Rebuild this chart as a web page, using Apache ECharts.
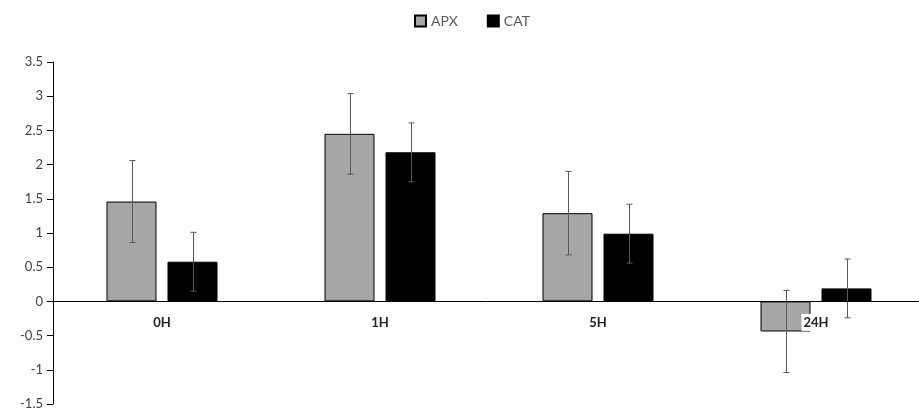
<!DOCTYPE html>
<html><head><meta charset="utf-8">
<script src="https://cdn.jsdelivr.net/npm/echarts@6/dist/echarts.min.js"></script>
<style>html,body{margin:0;padding:0;background:#fff}#c{width:919px;height:412px}</style>
</head><body><div id="c"></div>
<script>
const categories = ['0H', '1H', '5H', '24H'];
const apx = [1.46, 2.45, 1.29, -0.44];
const apxErr = [0.60, 0.59, 0.61, 0.60];
const cat = [0.58, 2.18, 0.99, 0.19];
const catErr = [0.43, 0.43, 0.43, 0.43];

const BAR_W = 50, GAP_PX = 11;
const font = 'Lato, "Open Sans", sans-serif';

function errData(vals, errs) {
  return vals.map((v, i) => [i, v - errs[i], v + errs[i]]);
}
function errSeries(name, vals, errs, sign) {
  return {
    type: 'custom', name: name + 'err', silent: true, z: 5,
    data: errData(vals, errs),
    encode: { x: 0, y: [1, 2] },
    renderItem: function (params, api) {
      const c = api.coord([api.value(0), api.value(1)]);
      const hi = api.coord([api.value(0), api.value(2)]);
      const x = Math.round(c[0] + sign * (BAR_W + GAP_PX) / 2) + 0.5;
      const cap = 3;
      const st = { stroke: '#5a5a5a', lineWidth: 1 };
      return { type: 'group', children: [
        { type: 'line', shape: { x1: x, y1: hi[1], x2: x, y2: c[1] }, style: st },
        { type: 'line', shape: { x1: x - cap, y1: hi[1], x2: x + cap, y2: hi[1] }, style: st },
        { type: 'line', shape: { x1: x - cap, y1: c[1], x2: x + cap, y2: c[1] }, style: st }
      ]};
    }
  };
}

const chart = echarts.init(document.getElementById('c'));
chart.setOption({
  animation: false,
  backgroundColor: '#fff',
  legend: {
    top: 9, left: 409, itemWidth: 11, itemHeight: 11, itemGap: 29, icon: 'rect',
    data: ['APX', 'CAT'],
    textStyle: { color: '#595959', fontSize: 14, fontFamily: font }
  },
  grid: { left: 53, right: -6, top: 62, bottom: 8, containLabel: false, outerBoundsMode: 'none' },
  xAxis: {
    type: 'category', data: categories,
    axisLine: { onZero: true, lineStyle: { color: '#000', width: 1 } },
    axisTick: { show: false },
    axisLabel: { show: false },
    z: 10
  },
  yAxis: {
    type: 'value', min: -1.5, max: 3.5, interval: 0.5,
    axisLine: { show: true, lineStyle: { color: '#000' } },
    axisTick: { show: true, length: 6, lineStyle: { color: '#000' } },
    axisLabel: { color: '#404040', fontSize: 13, fontFamily: font, margin: 10 },
    splitLine: { show: false }
  },
  series: [
    { name: 'APX', type: 'bar', data: apx, barWidth: BAR_W, barGap: (GAP_PX / BAR_W * 100) + '%',
      itemStyle: { color: '#a6a6a6', borderColor: '#000', borderWidth: 1 } },
    { name: 'CAT', type: 'bar', data: cat, barWidth: BAR_W,
      itemStyle: { color: '#000', borderColor: '#000', borderWidth: 1 } },
    errSeries('APX', apx, apxErr, -1),
    errSeries('CAT', cat, catErr, 1),
    {
      type: 'custom', name: 'catLabels', silent: true, z: 8,
      data: categories.map((c, i) => [i, 0]),
      encode: { x: 0, y: 1 },
      renderItem: function (params, api) {
        const p = api.coord([api.value(0), 0]);
        return {
          type: 'text', x: p[0], y: p[1] + 21,
          style: { text: categories[params.dataIndex], fill: '#222', font: 'bold 13px ' + font,
            align: 'center', verticalAlign: 'middle', backgroundColor: '#fff', padding: [2, 2] }
        };
      }
    }
  ]
});
</script></body></html>
